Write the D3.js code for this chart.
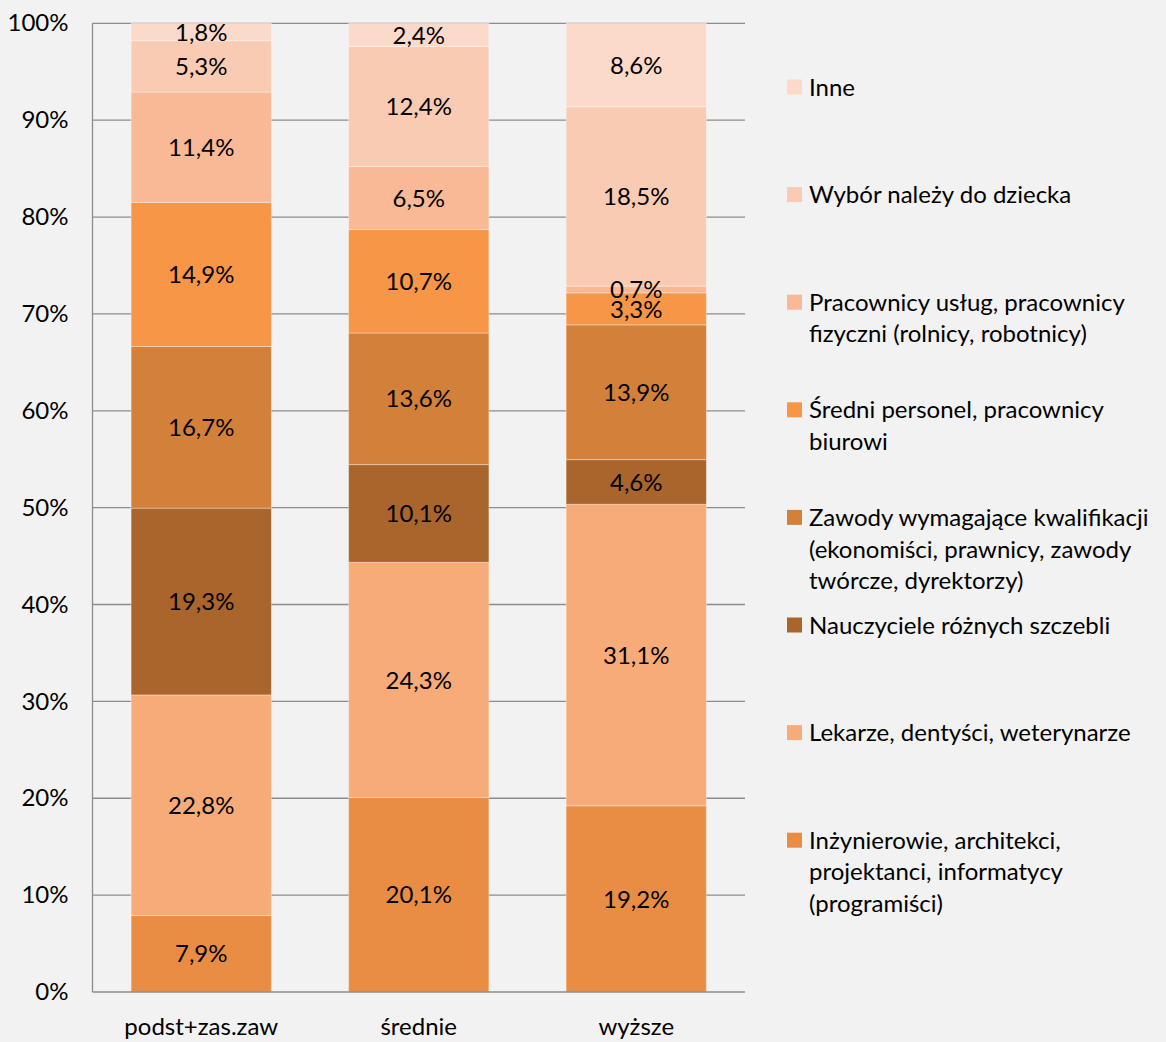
<!DOCTYPE html>
<html>
<head>
<meta charset="utf-8">
<script src="https://cdn.jsdelivr.net/npm/d3@7"></script>
<style>
  body { margin: 0; background: #f2f2f2; }
  svg { display: block; font-family: Lato, "Open Sans", sans-serif; }
</style>
</head>
<body>
<svg width="1166" height="1042"></svg>
<script>
// categories (education level)
var categories = ["podst+zas.zaw", "średnie", "wyższe"];

// series, bottom to top of the stack
var seriesNames = [
  "Inżynierowie, architekci, projektanci, informatycy (programiści)",
  "Lekarze, dentyści, weterynarze",
  "Nauczyciele różnych szczebli",
  "Zawody wymagające kwalifikacji (ekonomiści, prawnicy, zawody twórcze, dyrektorzy)",
  "Średni personel, pracownicy biurowi",
  "Pracownicy usług, pracownicy fizyczni (rolnicy, robotnicy)",
  "Wybór należy do dziecka",
  "Inne"
];

// legend lines (wrapped like the original)
var legendLines = [
  ["Inżynierowie, architekci,", "projektanci, informatycy", "(programiści)"],
  ["Lekarze, dentyści, weterynarze"],
  ["Nauczyciele różnych szczebli"],
  ["Zawody wymagające kwalifikacji", "(ekonomiści, prawnicy, zawody", "twórcze, dyrektorzy)"],
  ["Średni personel, pracownicy", "biurowi"],
  ["Pracownicy usług, pracownicy", "fizyczni (rolnicy, robotnicy)"],
  ["Wybór należy do dziecka"],
  ["Inne"]
];

var inzynierowie = [7.9, 20.1, 19.2];
var lekarze      = [22.8, 24.3, 31.1];
var nauczyciele  = [19.3, 10.1, 4.6];
var zawody       = [16.7, 13.6, 13.9];
var sredni       = [14.9, 10.7, 3.3];
var uslugi       = [11.4, 6.5, 0.7];
var wybor        = [5.3, 12.4, 18.5];
var inne         = [1.8, 2.4, 8.6];

var seriesValues = [inzynierowie, lekarze, nauczyciele, zawody, sredni, uslugi, wybor, inne];

var colors = ["#e98d44", "#f7ab78", "#a9652c", "#d3803a", "#f79646", "#f9b996", "#f9cbb3", "#fcdac9"];

var yTicks = [0, 0.1, 0.2, 0.3, 0.4, 0.5, 0.6, 0.7, 0.8, 0.9, 1];

var svg = d3.select("svg");
var fontSize = 24;

var plot = { left: 92.5, right: 745, top: 23.3, bottom: 992 };

// build table for d3.stack
var table = categories.map(function (c, i) {
  var row = { cat: c };
  seriesNames.forEach(function (s, j) { row[s] = seriesValues[j][i]; });
  return row;
});

var stack = d3.stack()
  .keys(seriesNames)
  .offset(d3.stackOffsetExpand);
var stacked = stack(table);

var x = d3.scaleBand()
  .domain(categories)
  .range([plot.left, plot.right])
  .paddingInner(0.355)
  .paddingOuter(0.1775);

var y = d3.scaleLinear()
  .domain([0, 1])
  .range([plot.bottom, plot.top]);

var fmt = d3.format(".1f");

// gridlines
svg.append("g")
  .selectAll("line")
  .data(yTicks.slice(1))
  .enter().append("line")
  .attr("x1", plot.left)
  .attr("x2", plot.right)
  .attr("y1", d => y(d))
  .attr("y2", d => y(d))
  .attr("stroke", "#8c8c8c")
  .attr("stroke-width", 1.3);

// y axis labels
var yAxis = d3.axisLeft(y)
  .tickValues(yTicks)
  .tickFormat(d3.format(".0%"))
  .tickSize(0)
  .tickPadding(24);

svg.append("g")
  .attr("transform", "translate(" + plot.left + ",0)")
  .call(yAxis)
  .call(g => g.select(".domain").remove())
  .selectAll("text")
  .attr("font-size", fontSize)
  .attr("font-family", "Lato, 'Open Sans', sans-serif")
  .attr("fill", "#000");

// bars
var layer = svg.append("g")
  .selectAll("g")
  .data(stacked)
  .enter().append("g")
  .attr("fill", (d, i) => colors[i]);

layer.selectAll("rect")
  .data(d => d)
  .enter().append("rect")
  .attr("x", d => x(d.data.cat))
  .attr("width", x.bandwidth())
  .attr("y", d => y(d[1]))
  .attr("height", d => y(d[0]) - y(d[1]))
  .attr("stroke", "#ffffff")
  .attr("stroke-opacity", 0.35)
  .attr("stroke-width", 1);

// data labels (drawn after all bars)
var labels = [];
stacked.forEach(function (s, i) {
  s.forEach(function (p) {
    labels.push({ p: p, v: seriesValues[i][categories.indexOf(p.data.cat)] });
  });
});

svg.append("g")
  .selectAll("text")
  .data(labels)
  .enter().append("text")
  .attr("x", d => x(d.p.data.cat) + x.bandwidth() / 2)
  .attr("y", d => (y(d.p[0]) + y(d.p[1])) / 2)
  .attr("dy", "0.36em")
  .attr("text-anchor", "middle")
  .attr("font-size", fontSize)
  .attr("fill", "#000")
  .text(d => fmt(d.v).replace(".", ",") + "%");

// axis lines
svg.append("line")
  .attr("x1", plot.left).attr("x2", plot.left)
  .attr("y1", plot.top).attr("y2", plot.bottom)
  .attr("stroke", "#8c8c8c").attr("stroke-width", 1.3);
svg.append("line")
  .attr("x1", plot.left).attr("x2", plot.right)
  .attr("y1", plot.bottom).attr("y2", plot.bottom)
  .attr("stroke", "#8c8c8c").attr("stroke-width", 1.3);

// x axis labels
var xAxis = d3.axisBottom(x).tickSize(0).tickPadding(26);
svg.append("g")
  .attr("transform", "translate(0," + plot.bottom + ")")
  .call(xAxis)
  .call(g => g.select(".domain").remove())
  .selectAll("text")
  .attr("font-size", fontSize)
  .attr("font-family", "Lato, 'Open Sans', sans-serif")
  .attr("fill", "#000");

// legend, top entry = last series
var legendTop = 87, legendStep = 107.6, lineH = 31.6;
var legend = svg.append("g")
  .selectAll("g")
  .data(seriesNames.map((s, i) => i).reverse())
  .enter().append("g")
  .attr("transform", (d, k) => "translate(787," + (legendTop + k * legendStep) + ")");

legend.append("rect")
  .attr("x", 0).attr("y", -7.5)
  .attr("width", 15).attr("height", 15)
  .attr("fill", d => colors[d]);

legend.append("text")
  .attr("font-size", fontSize)
  .attr("fill", "#000")
  .selectAll("tspan")
  .data(d => legendLines[d])
  .enter().append("tspan")
  .attr("x", 22)
  .attr("y", (d, i) => i * lineH)
  .attr("dy", "0.36em")
  .text(d => d);
</script>
</body>
</html>
